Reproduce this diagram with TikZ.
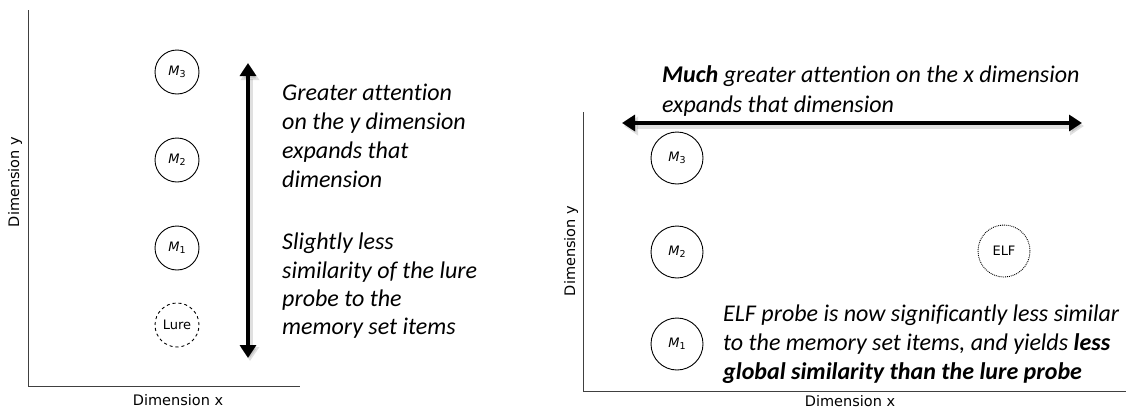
\documentclass[tikz,border=0pt]{standalone}
\usepackage{fontspec}
\setmainfont{Carlito}[Ligatures={NoCommon}]
\newfontfamily\dv{DejaVu Sans}
\usetikzlibrary{arrows.meta}
\newcommand{\mlab}[1]{{\dv\fontsize{13}{15}\selectfont\textit{M}\raisebox{-2.5pt}{\fontsize{9.5}{10}\selectfont #1}}}
\tikzset{
  axis/.style={draw=black!75, line width=1pt},
  axlabel/.style={font=\dv\fontsize{14.5}{16}\selectfont, inner sep=0pt},
  mem/.style={circle, draw, line width=0.9pt, inner sep=0pt},
  memL/.style={mem, minimum size=44pt},
  memR/.style={mem, minimum size=52pt},
  bigarrow/.style={line width=3.6pt, {Triangle[length=13pt,width=16pt]}-{Triangle[length=13pt,width=16pt]}},
  shadowarrow/.style={line width=5pt, draw=black, opacity=0.12, {Triangle[length=14pt,width=18pt]}-{Triangle[length=14pt,width=18pt]}},
  note/.style={font=\fontsize{24}{29}\selectfont\itshape, anchor=base west, inner sep=0pt}
}
\begin{document}
\begin{tikzpicture}[x=1pt,y=-1pt]
\useasboundingbox (0,0) rectangle (1128,410);
% ---------- left panel ----------
\coordinate (lo) at (28,386);
\coordinate (ltop) at (28,10);
\coordinate (lright) at (300,386);
\draw[axis] (ltop) -- (lo) -- (lright);
\node[axlabel] (lxl) at (178,400) {Dimension x};
\node[axlabel, rotate=90] (lyl) at (15,182) {Dimension y};
\node[memL] (lm3) at (177,72) {\mlab{3}};
\node[memL] (lm2) at (177,160) {\mlab{2}};
\node[memL] (lm1) at (177,248) {\mlab{1}};
\node[memL, dashed] (lure) at (177,325) {\dv\fontsize{13}{15}\selectfont Lure};
\coordinate (vtop) at (248,63);
\coordinate (vbot) at (248,358);
\coordinate (vtops) at (250,66);
\coordinate (vbots) at (250,361);
\draw[shadowarrow] (vtops) -- (vbots);
\draw[bigarrow] (vtop) -- (vbot);
\node[note] (t1) at (282,100) {Greater attention};
\node[note] (t2) at (282,129) {on the y dimension};
\node[note] (t3) at (282,158) {expands that};
\node[note] (t4) at (282,187) {dimension};
\node[note] (t5) at (282,249) {Slightly less};
\node[note] (t6) at (282,278) {similarity of the lure};
\node[note] (t7) at (282,306) {probe to the};
\node[note] (t8) at (282,334) {memory set items};
% ---------- right panel ----------
\coordinate (ro) at (583,391);
\coordinate (rtop) at (583,112);
\coordinate (rright) at (1126,391);
\draw[axis] (rtop) -- (ro) -- (rright);
\node[axlabel] (rxl) at (850,401) {Dimension x};
\node[axlabel, rotate=90] (ryl) at (571,251) {Dimension y};
\node[memR] (rm3) at (677,158) {\mlab{3}};
\node[memR] (rm2) at (677,252) {\mlab{2}};
\node[memR] (rm1) at (677,344) {\mlab{1}};
\node[memR, densely dotted] (elf) at (1004,251) {\dv\fontsize{13}{15}\selectfont ELF};
\coordinate (hl) at (622,123);
\coordinate (hr) at (1082,123);
\coordinate (hls) at (624,126);
\coordinate (hrs) at (1084,126);
\draw[shadowarrow] (hls) -- (hrs);
\draw[bigarrow] (hl) -- (hr);
\node[note] (u1) at (662,82) {\textbf{Much} greater attention on the x dimension};
\node[note] (u2) at (662,112) {expands that dimension};
\node[note] (e1) at (723,321) {ELF probe is now significantly less similar};
\node[note] (e2) at (723,350) {to the memory set items, and yields \textbf{less}};
\node[note] (e3) at (723,379) {\textbf{global similarity than the lure probe}};
\end{tikzpicture}
\end{document}
